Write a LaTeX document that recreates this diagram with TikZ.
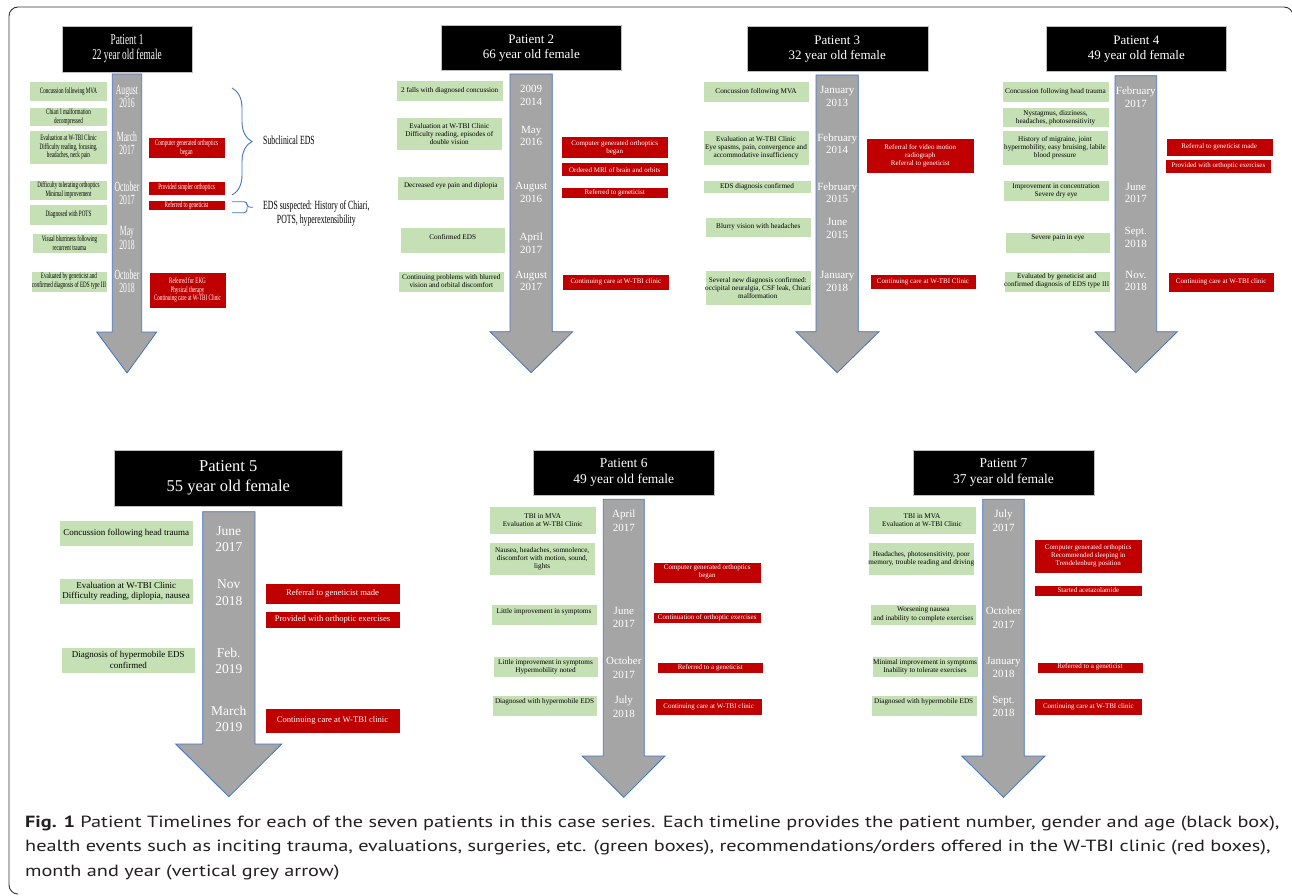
\documentclass[tikz,border=0pt]{standalone}
\usepackage{fontspec}
\setmainfont{Liberation Serif}
\newfontfamily\pone{Liberation Serif}[FakeStretch=0.62]
\newfontfamily\pdate{Liberation Serif}[FakeStretch=0.55]
\newfontfamily\capfont{PT Sans}[FakeStretch=1.25]
\usepackage{tikz}
\usetikzlibrary{decorations.pathreplacing}

\definecolor{evgreen}{HTML}{C5E0B4}
\definecolor{ordred}{HTML}{C00000}
\definecolor{arrgray}{HTML}{A5A5A5}
\definecolor{arrblue}{HTML}{4472C4}
\definecolor{captext}{HTML}{231F20}

\newcommand{\timeline}[7]{%
  \draw[tlarrow] (#1,#3) -- (#2,#3) -- (#2,#4) -- (#6,#4) -- ({(#1+#2)/2},#7) -- (#5,#4) -- (#1,#4) -- cycle;}

\begin{document}
\begin{tikzpicture}[
    x=1pt, y=-1pt,
    hdrfont/.style={font=\fontsize{13}{14.7}\selectfont},
    datefont/.style={font=\fontsize{11}{12.7}\selectfont},
    boxfont/.style={font=\fontsize{7.2}{8}\selectfont},
    redfont/.style={font=\fontsize{7}{8}\selectfont},
    hdr/.style={rectangle, fill=black, draw=gray!50, text=white, align=center, inner sep=0pt, hdrfont},
    gbox/.style={rectangle, fill=evgreen, draw=white, align=center, inner sep=0.5pt, boxfont},
    rbox/.style={rectangle, fill=ordred, draw=white, text=white, align=center, inner sep=0.5pt, redfont},
    date/.style={text=white, align=center, inner sep=0pt, datefont},
    tlarrow/.style={fill=arrgray, draw=arrblue, line width=0.8pt},
    liftby/.style={text depth=#1},
    ebrace/.style={draw=arrblue, line width=0.9pt},
    bracelbl/.style={inner sep=0pt, align=center, font=\pone\fontsize{12.5}{13.5}\selectfont},
    capline/.style={inner sep=0pt, text=captext, font=\capfont\fontsize{16.2}{24}\selectfont}
]
\useasboundingbox (0,0) rectangle (1292,896);
\draw[black!80, line width=0.9pt, rounded corners=9] (17,894) -- (9,894) -- (9,7) -- (1293,7) -- (1293,60);

\begin{scope}[
    hdrfont/.style={font=\pone\fontsize{15}{15}\selectfont},
    datefont/.style={font=\pdate\fontsize{14}{13.2}\selectfont},
    boxfont/.style={font=\pone\fontsize{8.2}{8.5}\selectfont},
    redfont/.style={font=\pone\fontsize{8.2}{8.7}\selectfont}]
\node[hdr, minimum width=130, minimum height=46] (h1) at (127,49) {Patient 1\\22 year old female};
\timeline{112.3}{141.7}{74}{332}{96.7}{156.7}{373}
\node[date] (d1a) at (127,96.5) {August\\2016};
\node[date] (d1b) at (127,143.3) {March\\2017};
\node[date] (d1c) at (127,193) {October\\2017};
\node[date] (d1d) at (127,238) {May\\2018};
\node[date] (d1e) at (127,281) {October\\2018};
\node[gbox, minimum width=78, minimum height=20.7] (e1a) at (68.5,91.3) {Concussion following MVA};
\node[gbox, minimum width=78, minimum height=19.4] (e1b) at (68.5,117) {Chiari I malformation\\decompressed};
\node[gbox, minimum width=78, minimum height=33.3] (e1c) at (68.5,147.3) {Evaluation at W-TBI Clinic\\Difficulty reading, focusing,\\headaches, neck pain};
\node[gbox, minimum width=78, minimum height=20] (e1d) at (68.5,190) {Difficulty tolerating orthoptics\\Minimal improvement};
\node[gbox, minimum width=78, minimum height=21] (e1e) at (68.5,214.5) {Diagnosed with POTS};
\node[gbox, minimum width=75.6, minimum height=20.6] (e1f) at (69.5,243) {Visual blurriness following\\recurrent trauma};
\node[gbox, minimum width=76.6, minimum height=21] (e1g) at (69,281.2) {Evaluated by geneticist and\\confirmed diagnosis of EDS type III};
\node[rbox, minimum width=77, minimum height=21] (o1a) at (186.5,147.8) {Computer generated orthoptics\\began};
\node[rbox, minimum width=77, minimum height=14] (o1b) at (186.5,188) {Provided simpler orthoptics};
\node[rbox, minimum width=77, minimum height=10.7] (o1c) at (186.5,205.3) {Referred to geneticist};
\node[rbox, minimum width=76.4, minimum height=36.6] (o1d) at (187.5,290) {Referred for EKG\\Physical therapy\\Continuing care at W-TBI Clinic};
\coordinate (b1s) at (232,88);
\coordinate (b1e) at (232,195);
\draw[ebrace, decorate, decoration={brace, amplitude=20pt}] (b1s) -- (b1e);
\node[bracelbl, anchor=west] (s1) at (263,140) {Subclinical EDS};
\coordinate (b2s) at (232,201.7);
\coordinate (b2e) at (232,212.7);
\draw[ebrace, rounded corners=3] (b2s) -| (247,207.2) -- (253,207.2) (247,207.2) |- (b2e);
\node[bracelbl, anchor=west] (s2) at (263,213.5) {EDS suspected: History of Chiari,\\POTS, hyperextensibility};
\end{scope}

\node[hdr, minimum width=180.7, minimum height=45.7] (h2) at (531.3,47.8) {Patient 2\\66 year old female};
\timeline{510}{552.3}{74}{331.7}{490}{572.7}{372.7}
\node[date] (d2a) at (531.2,95.3) {2009\\2014};
\node[date] (d2b) at (531.2,136) {May\\2016};
\node[date] (d2c) at (531.2,192.7) {August\\2016};
\node[date] (d2d) at (531.2,243.3) {April\\2017};
\node[date] (d2e) at (531.2,281) {August\\2017};
\node[gbox, minimum width=107.3, minimum height=21] (e2a) at (449.7,91.2) {2 falls with diagnosed concussion};
\node[gbox, minimum width=106.7, minimum height=32.7] (e2b) at (449.3,133.7) {Evaluation at W-TBI Clinic\\Difficulty reading, episodes of\\double vision};
\node[gbox, liftby=6pt, minimum width=107, minimum height=23.3] (e2c) at (450.8,188.3) {Decreased eye pain and diplopia};
\node[gbox, liftby=6.5pt, minimum width=105.3, minimum height=25.4] (e2d) at (452.7,240) {Confirmed EDS};
\node[gbox, minimum width=106, minimum height=21] (e2e) at (451.3,281.2) {Continuing problems with blurred\\vision and orbital discomfort};
\node[rbox, minimum width=107.3, minimum height=21.6] (o2a) at (614.7,147.5) {Computer generated orthoptics\\began};
\node[rbox, minimum width=107.3, minimum height=14] (o2b) at (614.7,169.7) {Ordered MRI of brain and orbits};
\node[rbox, minimum width=107.3, minimum height=11] (o2c) at (614.7,192.8) {Referred to geneticist};
\node[rbox, minimum width=107, minimum height=16.7] (o2d) at (615.8,282.3) {Continuing care at W-TBI clinic};

\node[hdr, minimum width=181, minimum height=45] (h3) at (837.2,49.2) {Patient 3\\32 year old female};
\timeline{816}{858.3}{75}{331.7}{796}{879}{372.7}
\node[date] (d3a) at (837.2,96.3) {January\\2013};
\node[date] (d3b) at (837.2,143.7) {February\\2014};
\node[date] (d3c) at (837.2,192.7) {February\\2015};
\node[date] (d3d) at (837.2,228.3) {June\\2015};
\node[date] (d3e) at (837.2,281.3) {January\\2018};
\node[gbox, minimum width=106.6, minimum height=21.7] (e3a) at (756,91.8) {Concussion following MVA};
\node[gbox, minimum width=106.6, minimum height=34.3] (e3b) at (756,147.8) {Evaluation at W-TBI Clinic\\Eye spasms, pain, convergence and\\accommodative insufficiency};
\node[gbox, minimum width=107.4, minimum height=13.3] (e3c) at (757,186.7) {EDS diagnosis confirmed};
\node[gbox, minimum width=106.7, minimum height=20.6] (e3d) at (758.3,227) {Blurry vision with headaches};
\node[gbox, minimum width=105.7, minimum height=34.3] (e3e) at (757.8,287.8) {Several new diagnosis confirmed:\\occipital neuralgia, CSF leak, Chiari\\malformation};
\node[rbox, minimum width=107.3, minimum height=35] (o3a) at (920.3,155.8) {Referral for video motion\\radiograph\\Referral to geneticist};
\node[rbox, minimum width=106, minimum height=15.3] (o3b) at (923,281.7) {Continuing care at W-TBI Clinic};

\node[hdr, minimum width=180.7, minimum height=45] (h4) at (1136.3,49.2) {Patient 4\\49 year old female};
\timeline{1115}{1156.7}{75.7}{331.7}{1095}{1177.3}{372.7}
\node[date] (d4a) at (1135.8,97) {February\\2017};
\node[date] (d4b) at (1135.8,193) {June\\2017};
\node[date] (d4c) at (1135.8,237.5) {Sept.\\2018};
\node[date] (d4d) at (1135.8,281) {Nov.\\2018};
\node[gbox, minimum width=107.6, minimum height=21] (e4a) at (1055.5,92.2) {Concussion following head trauma};
\node[gbox, minimum width=107.6, minimum height=20] (e4b) at (1055.5,117.3) {Nystagmus, dizziness,\\headaches, photosensitivity};
\node[gbox, minimum width=106.6, minimum height=34.3] (e4c) at (1055,147.8) {History of migraine, joint\\hypermobility, easy bruising, labile\\blood pressure};
\node[gbox, minimum width=106.6, minimum height=21.7] (e4d) at (1056,190.8) {Improvement in concentration\\Severe dry eye};
\node[gbox, liftby=9.5pt, minimum width=105.7, minimum height=21] (e4e) at (1057.8,242.2) {Severe pain in eye};
\node[gbox, minimum width=105.3, minimum height=21] (e4f) at (1056.7,281.2) {Evaluated by geneticist and\\confirmed diagnosis of EDS type III};
\node[rbox, minimum width=107, minimum height=17.7] (o4a) at (1219.2,147.2) {Referral to geneticist made};
\node[rbox, minimum width=106.7, minimum height=14] (o4b) at (1218.3,166.3) {Provided with orthoptic exercises};
\node[rbox, minimum width=105.7, minimum height=20] (o4c) at (1221.2,281.7) {Continuing care at W-TBI clinic};

\begin{scope}[
    hdrfont/.style={font=\fontsize{16.5}{20}\selectfont},
    datefont/.style={font=\fontsize{13.5}{16.6}\selectfont},
    boxfont/.style={font=\fontsize{9}{10.7}\selectfont},
    redfont/.style={font=\fontsize{8.6}{10}\selectfont}]
\node[hdr, minimum width=228.7, minimum height=56.7] (h5) at (228.3,478.3) {Patient 5\\55 year old female};
\timeline{202.7}{255}{511.7}{744}{175.7}{281.7}{796.7}
\node[date] (d5a) at (228.8,539) {June\\2017};
\node[date] (d5b) at (228.8,592.7) {Nov\\2018};
\node[date] (d5c) at (228.8,660.7) {Feb.\\2019};
\node[date] (d5d) at (228.8,719) {March\\2019};
\node[gbox, minimum width=134.3, minimum height=26] (e5a) at (126.2,533) {Concussion following head trauma};
\node[gbox, minimum width=134.3, minimum height=26] (e5b) at (126.2,591.3) {Evaluation at W-TBI Clinic\\Difficulty reading, diplopia, nausea};
\node[gbox, minimum width=133.3, minimum height=25.4] (e5c) at (128.3,660) {Diagnosis of hypermobile EDS\\confirmed};
\node[rbox, minimum width=135, minimum height=21.6] (o5a) at (332.5,593.5) {Referral to geneticist made};
\node[rbox, minimum width=135, minimum height=17.6] (o5b) at (332.5,619.5) {Provided with orthoptic exercises};
\node[rbox, minimum width=135, minimum height=25] (o5c) at (332.5,720.8) {Continuing care at W-TBI clinic};
\end{scope}

\begin{scope}[
    hdrfont/.style={font=\fontsize{13.5}{15.3}\selectfont},
    datefont/.style={font=\fontsize{11}{13.3}\selectfont},
    boxfont/.style={font=\fontsize{7.2}{8.4}\selectfont}]
\node[hdr, minimum width=181, minimum height=45] (h6) at (623.8,472.5) {Patient 6\\49 year old female};
\timeline{603.3}{644.3}{499.3}{756}{582.3}{665}{797.3}
\node[date] (d6a) at (623.8,520.7) {April\\2017};
\node[date] (d6b) at (623.8,617.7) {June\\2017};
\node[date] (d6c) at (623.8,667.7) {October\\2017};
\node[date] (d6d) at (623.8,706.7) {July\\2018};
\node[gbox, minimum width=106.7, minimum height=28] (e6a) at (542.7,520) {TBI in MVA\\Evaluation at W-TBI Clinic};
\node[gbox, minimum width=105.7, minimum height=32.7] (e6b) at (542.2,558.7) {Nausea, headaches, somnolence,\\discomfort with motion, sound,\\lights};
\node[gbox, liftby=7.5pt, minimum width=106.6, minimum height=21] (e6c) at (544,614.5) {Little improvement in symptoms};
\node[gbox, minimum width=105.6, minimum height=21.3] (e6d) at (545.5,666.7) {Little improvement in symptoms\\Hypermobility noted};
\node[gbox, liftby=9.5pt, minimum width=105.6, minimum height=21] (e6e) at (544.5,705.5) {Diagnosed with hypermobile EDS};
\node[rbox, minimum width=107.7, minimum height=21] (o6a) at (707.2,572.2) {Computer generated orthoptics\\began};
\node[rbox, minimum width=107.7, minimum height=10.4] (o6b) at (707.2,617.5) {Continuation of orthoptic exercises};
\node[rbox, minimum width=106, minimum height=10.4] (o6c) at (710.3,667.5) {Referred to a geneticist};
\node[rbox, minimum width=107.3, minimum height=16.7] (o6d) at (708.7,706.7) {Continuing care at W-TBI clinic};

\node[hdr, minimum width=181.6, minimum height=45] (h7) at (1003.5,472.5) {Patient 7\\37 year old female};
\timeline{982.7}{1024.3}{499.3}{756}{961.7}{1045}{797.3}
\node[date] (d7a) at (1003.5,520.7) {July\\2017};
\node[date] (d7b) at (1003.5,617.7) {October\\2017};
\node[date] (d7c) at (1003.5,667.7) {January\\2018};
\node[date] (d7d) at (1003.5,706.7) {Sept.\\2018};
\node[gbox, minimum width=107.4, minimum height=28] (e7a) at (922,520) {TBI in MVA\\Evaluation at W-TBI Clinic};
\node[gbox, minimum width=106, minimum height=32.7] (e7b) at (921.3,558.7) {Headaches, photosensitivity, poor\\memory, trouble reading and driving};
\node[gbox, minimum width=106.7, minimum height=21] (e7c) at (923.3,614.5) {Worsening nausea\\and inability to complete exercises};
\node[gbox, minimum width=106.6, minimum height=21.3] (e7d) at (925,666.7) {Minimal improvement in symptoms\\Inability to tolerate exercises};
\node[gbox, liftby=9.5pt, minimum width=106, minimum height=21] (e7e) at (923.7,705.5) {Diagnosed with hypermobile EDS};
\node[rbox, minimum width=108, minimum height=33.4] (o7a) at (1088.3,556) {Computer generated orthoptics\\Recommended sleeping in\\Trendelenburg position};
\node[rbox, minimum width=108, minimum height=11] (o7b) at (1088.3,590.5) {Started acetazolamide};
\node[rbox, minimum width=106.6, minimum height=11] (o7c) at (1090,667.2) {Referred to a geneticist};
\node[rbox, minimum width=108, minimum height=16.7] (o7d) at (1088.3,706.7) {Continuing care at W-TBI clinic};
\end{scope}

\node[capline, anchor=base west] (c1) at (25,827.3) {\textbf{Fig. 1} Patient Timelines for each of the seven patients in this case series. Each timeline provides the patient number, gender and age (black box),};
\node[capline, anchor=base west] (c2) at (25,851.7) {health events such as inciting trauma, evaluations, surgeries, etc. (green boxes), recommendations/orders offered in the W-TBI clinic (red boxes),};
\node[capline, anchor=base west] (c3) at (25,876.3) {month and year (vertical grey arrow)};

\end{tikzpicture}
\end{document}
